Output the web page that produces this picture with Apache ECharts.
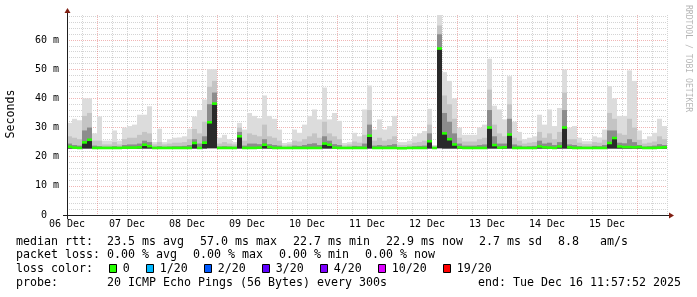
<!DOCTYPE html>
<html>
<head>
<meta charset="utf-8">
<script src="https://cdn.jsdelivr.net/npm/echarts@6/dist/echarts.min.js"></script>
<style>
html,body{margin:0;padding:0;background:#ffffff;}
#chart{width:697px;height:297px;}
</style>
</head>
<body>
<div id="chart"></div>
<script>
// ---- data (2-hour steps starting 06 Dec 12:00) ----
const STEP_HOURS = 2;
const dayLabels = ['06 Dec','07 Dec','08 Dec','09 Dec','10 Dec','11 Dec','12 Dec','13 Dec','14 Dec','15 Dec'];
const yTickLabels = ['0  ','10 m','20 m','30 m','40 m','50 m','60 m'];

const pMax = [
 31.6,33.0,32.5,40.0,40.0,28.0,33.8,25.5,25.5,29.0,
 25.5,30.0,30.5,31.0,34.4,34.4,37.3,25.0,29.6,25.0,
 26.0,26.5,26.6,27.0,29.6,33.8,36.0,39.6,50.0,50.0,
 26.5,27.5,26.0,25.0,31.6,29.3,35.0,34.0,33.2,41.0,
 34.0,33.0,29.3,24.7,25.0,29.3,28.2,31.0,34.0,36.2,
 32.8,43.7,32.8,35.0,32.3,24.7,25.0,28.2,27.0,36.2,
 44.4,29.3,32.8,29.3,30.5,34.0,25.0,25.0,25.5,27.0,
 28.0,28.8,36.4,24.0,69.5,49.0,46.0,40.0,30.0,27.5,
 27.5,27.5,30.0,31.0,53.6,37.5,36.2,32.8,47.6,32.0,
 28.5,26.0,26.5,27.0,34.4,31.0,36.2,30.5,36.7,49.9,
 30.0,30.5,26.5,25.3,25.3,27.0,26.6,29.3,44.2,40.0,
 34.0,34.0,49.6,46.0,29.0,26.0,27.0,28.2,33.0,30.5
];
const p90 = [
 27.0,26.5,26.0,34.0,35.0,25.5,25.5,24.2,24.2,25.0,
 24.2,26.0,26.5,26.5,27.5,28.5,28.0,24.2,25.0,24.2,
 24.5,24.8,24.8,25.0,26.0,29.5,28.0,32.0,44.0,46.0,
 24.5,25.0,24.5,24.2,30.0,25.5,28.0,27.5,27.0,31.0,
 27.0,26.5,25.5,23.9,24.2,25.5,25.2,26.0,27.0,28.0,
 26.5,32.0,28.0,27.0,26.0,23.9,24.2,25.2,24.8,27.5,
 36.0,25.5,26.5,25.5,26.0,27.0,24.0,24.0,24.2,24.8,
 25.0,25.5,31.0,23.7,65.0,41.0,38.0,33.0,26.5,25.2,
 25.2,25.2,26.0,26.5,43.0,31.0,28.0,27.0,38.0,26.5,
 25.5,24.5,24.8,25.0,28.5,26.5,28.0,26.0,28.5,42.0,
 26.0,26.0,24.8,24.3,24.3,25.0,24.8,25.8,35.0,33.0,
 28.0,27.5,33.0,30.0,25.8,24.5,24.8,25.2,27.0,26.0
];
const p75 = [
 24.5,24.0,23.8,29.0,30.0,23.8,23.6,23.4,23.4,23.6,
 23.4,24.0,24.2,24.2,24.5,25.5,25.0,23.4,23.6,23.4,
 23.5,23.6,23.6,23.7,24.0,26.0,24.5,27.0,38.0,42.0,
 23.5,23.6,23.5,23.4,28.5,23.8,24.5,24.5,24.3,26.0,
 24.3,24.0,23.8,23.3,23.4,23.8,23.7,24.0,24.4,24.6,
 24.0,27.0,25.5,24.3,24.0,23.3,23.4,23.7,23.6,24.5,
 31.0,23.8,24.0,23.8,24.0,24.3,23.3,23.3,23.4,23.6,
 23.7,23.8,28.0,23.3,62.0,35.0,32.0,28.0,24.5,23.8,
 23.8,23.8,24.0,24.2,36.0,27.0,24.5,24.5,33.0,24.2,
 23.8,23.5,23.6,23.7,25.5,24.5,24.8,24.0,25.0,36.0,
 24.2,24.0,23.6,23.4,23.4,23.7,23.6,24.0,29.0,29.0,
 24.8,24.6,26.0,25.0,24.0,23.5,23.6,23.8,24.3,24.0
];
const median = [
 23.4,23.1,23.0,24.9,25.8,23.0,23.0,23.0,23.0,23.0,
 23.0,23.1,23.1,23.1,23.2,24.1,23.6,23.0,23.0,23.0,
 23.0,23.0,23.0,23.0,23.0,24.7,23.0,24.8,31.8,38.2,
 23.0,23.0,23.0,23.0,27.0,23.0,23.0,23.0,23.1,24.1,
 23.3,23.0,23.0,23.0,23.0,23.0,23.0,23.0,23.0,23.0,
 23.0,24.5,24.1,23.1,23.0,23.0,23.0,23.0,23.0,23.0,
 27.2,23.0,23.0,23.0,23.0,23.0,22.9,22.9,23.0,23.0,
 23.0,23.0,25.3,23.0,57.1,28.0,26.0,24.2,23.2,23.0,
 23.0,23.0,23.0,23.0,30.0,24.0,23.1,23.2,27.6,23.0,
 23.0,23.0,23.0,23.0,23.5,23.2,23.1,23.0,23.5,30.0,
 23.2,23.0,23.0,23.0,23.0,23.0,23.0,23.0,24.7,26.4,
 23.5,23.3,23.3,23.2,23.3,23.0,23.0,23.0,23.1,23.2
];
const pMin = [
 22.8,22.8,22.7,22.8,22.8,22.7,22.8,22.7,22.7,22.8,
 22.7,22.8,22.8,22.8,22.8,22.8,22.8,22.7,22.7,22.7,
 22.7,22.7,22.8,22.8,22.8,22.8,22.8,22.8,22.9,22.9,
 22.7,22.7,22.7,22.7,22.8,22.7,22.7,22.8,22.8,22.8,
 22.8,22.7,22.7,22.7,22.7,22.7,22.7,22.7,22.8,22.8,
 22.7,22.8,22.8,22.8,22.7,22.7,22.7,22.7,22.7,22.8,
 22.8,22.7,22.7,22.7,22.7,22.8,22.7,22.7,22.7,22.7,
 22.7,22.7,22.8,22.7,22.9,22.8,22.8,22.8,22.8,22.7,
 22.7,22.7,22.7,22.8,22.8,22.8,22.8,22.8,22.8,22.7,
 22.7,22.7,22.7,22.7,22.8,22.8,22.8,22.7,22.8,22.8,
 22.8,22.7,22.7,22.7,22.7,22.7,22.7,22.7,22.8,22.8,
 22.8,22.8,22.8,22.8,22.8,22.7,22.7,22.7,22.8,22.8
];

// legend texts
const legendLine1 = ['median rtt:  23.5 ms avg','57.0 ms max','22.7 ms min','22.9 ms now','2.7 ms sd','8.8   am/s'];
const legendLine2 = ['packet loss: 0.00 % avg','0.00 % max','0.00 % min','0.00 % now'];
const lossTitle = 'loss color:';
const lossLabels = ['0','1/20','2/20','3/20','4/20','10/20','19/20'];
const lossColors = ['#26ff00','#00b8ff','#0059ff','#5e00ff','#7e00ff','#dd00ff','#ff0000'];
const probeText = 'probe:       20 ICMP Echo Pings (56 Bytes) every 300s';
const endText = 'end: Tue Dec 16 11:57:52 2025';

// ---- layout ----
const G = {left: 67, top: 15, width: 600, height: 200};
const Y_MAX = 68.6;
const FONT = "'DejaVu Sans Mono', monospace";
const LEG_SIZE = 11.63, CH = 7.0, GAP = 16;
const GRID_C = 'rgba(143,143,143,0.38)';
const MGRID_C = 'rgba(222,79,79,0.42)';
const AXIS_C = '#1f1f1f';
const ARROW_C = '#801f12';

const smokeData = pMax.map((_, i) => [i * STEP_HOURS, (i + 1) * STEP_HOURS, pMin[i], p75[i], p90[i], pMax[i], median[i]]);

function renderSmoke(params, api) {
  const x0 = api.value(0), x1 = api.value(1);
  const L = api.coord([x0, 0])[0], R = api.coord([x1, 0])[0];
  const Y = v => api.coord([x0, v])[1];
  const w = R - L;
  const yLo = Y(api.value(2));
  const band = (top, fill) => ({type: 'rect', shape: {x: L, y: Y(top), width: w, height: yLo - Y(top)}, style: {fill: fill}});
  const ym = Y(api.value(6));
  return {type: 'group', children: [
    band(api.value(5), '#dcdcdc'),
    band(api.value(4), '#c4c4c4'),
    band(api.value(3), '#8c8c8c'),
    band(api.value(6), '#2a2a2a'),
    {type: 'rect', shape: {x: L, y: ym - 1.3, width: w, height: 2.6}, style: {fill: '#26ff00'}}
  ]};
}

// legend graphics
const graphics = [];
const txt = (x, y, s, extra) => Object.assign({type: 'text', x: x, y: y, style: {text: s, font: LEG_SIZE + 'px ' + FONT, fill: '#000', align: 'left', verticalAlign: 'middle'}}, extra || {});
let x = 16;
legendLine1.forEach(s => { graphics.push(txt(x, 241.7, s)); x += s.length * CH + GAP; });
x = 16;
legendLine2.forEach(s => { graphics.push(txt(x, 255.4, s)); x += s.length * CH + GAP; });
graphics.push(txt(16, 269.2, lossTitle));
x = 16 + lossTitle.length * CH + GAP;
lossLabels.forEach((s, i) => {
  graphics.push({type: 'rect', shape: {x: x + 0.5, y: 264.5, width: 7, height: 8}, style: {fill: lossColors[i], stroke: '#000', lineWidth: 1}});
  graphics.push(txt(x + 13.7, 269.2, s));
  x += 13.7 + s.length * CH + 16.3;
});
graphics.push(txt(16, 283, probeText));
graphics.push({type: 'text', x: 681, y: 283, style: {text: endText, font: LEG_SIZE + 'px ' + FONT, fill: '#000', align: 'right', verticalAlign: 'middle'}});
// axis title and watermark
graphics.push({type: 'text', x: 11, y: 114, rotation: Math.PI / 2, style: {text: 'Seconds', font: LEG_SIZE + 'px ' + FONT, fill: '#000', align: 'center', verticalAlign: 'middle'}});
graphics.push({type: 'text', x: 688, y: 5, rotation: -Math.PI / 2, style: {text: 'RRDTOOL / TOBI OETIKER', font: '8.1px ' + FONT, fill: 'rgba(0,0,0,0.3)', align: 'left', verticalAlign: 'middle'}});
// axes lines and arrows (RRDtool style)
const xo = G.left, yo = G.top + G.height;
graphics.push({type: 'line', z: 20, shape: {x1: xo - 4, y1: yo + 0.5, x2: xo + G.width + 4, y2: yo + 0.5}, style: {stroke: AXIS_C, lineWidth: 1}});
graphics.push({type: 'line', z: 20, shape: {x1: xo + 0.5, y1: yo + 4, x2: xo + 0.5, y2: G.top - 4}, style: {stroke: AXIS_C, lineWidth: 1}});
graphics.push({type: 'polygon', z: 21, shape: {points: [[xo + G.width + 2, yo - 2.5], [xo + G.width + 2, yo + 3.5], [xo + G.width + 7, yo + 0.5]]}, style: {fill: ARROW_C}});
graphics.push({type: 'polygon', z: 21, shape: {points: [[xo - 2.5, G.top - 2], [xo + 3.5, G.top - 2], [xo + 0.5, G.top - 7]]}, style: {fill: ARROW_C}});

const chart = echarts.init(document.getElementById('chart'), null, {renderer: 'canvas'});
chart.setOption({
  animation: false,
  backgroundColor: '#ffffff',
  grid: {left: G.left, top: G.top, width: G.width, height: G.height, containLabel: false},
  xAxis: {
    type: 'value', min: 0, max: 240, interval: 6,
    axisLine: {show: false}, axisTick: {show: false},
    axisLabel: {
      formatter: v => (v % 24 === 0 ? (dayLabels[v / 24] || '') : ''),
      fontFamily: FONT, fontSize: 10, color: '#000', margin: 4
    },
    splitLine: {show: true, lineStyle: {color: [GRID_C, GRID_C, MGRID_C, GRID_C], type: [1, 1], width: 1}}
  },
  yAxis: {
    type: 'value', min: 0, max: Y_MAX, interval: 2,
    axisLine: {show: false}, axisTick: {show: false},
    axisLabel: {
      formatter: v => (v % 10 === 0 ? (yTickLabels[v / 10] || '') : ''),
      fontFamily: FONT, fontSize: 10, color: '#000', margin: 8
    },
    splitLine: {show: true, showMaxLine: false, lineStyle: {color: [MGRID_C, GRID_C, GRID_C, GRID_C, GRID_C], type: [1, 1], width: 1}}
  },
  series: [{
    type: 'custom', renderItem: renderSmoke, data: smokeData, clip: true,
    encode: {x: [0, 1], y: [2, 5]}, silent: true, z: 2
  }],
  graphic: graphics
});
</script>
</body>
</html>
